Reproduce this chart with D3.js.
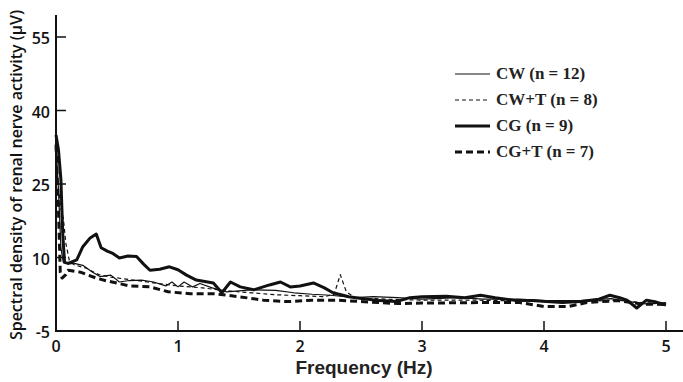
<!DOCTYPE html>
<html>
<head>
<meta charset="utf-8">
<script src="https://cdn.jsdelivr.net/npm/d3@7"></script>
<style>
  body { margin: 0; background: white; }
  svg { display: block; }
</style>
</head>
<body>
<svg id="chart" width="683" height="382"></svg>
<script>
// tick values
var xTicks = [0, 1, 2, 3, 4, 5];
var yTicks = [-5, 10, 25, 40, 55];

// series, [frequency (Hz), spectral density (uV)]
var cw = [[0,33],[0.02,24],[0.04,12],[0.06,9],[0.1,8.7],[0.15,8.8],[0.22,8.4],[0.3,7],[0.36,6.1],
  [0.45,6.4],[0.52,5],[0.6,5.3],[0.7,5.4],[0.8,5],[0.9,4.2],[0.95,5],[1.0,4],[1.05,5],[1.12,4],
  [1.18,4.7],[1.28,3.8],[1.4,3],[1.6,3.4],[1.8,3.3],[1.95,2.8],[2.1,2.5],[2.25,2.3],[2.45,1.8],
  [2.6,2],[2.8,1.8],[3.0,1.5],[3.3,1.8],[3.5,1.5],[3.8,1.5],[4.0,1.2],[4.3,1.2],[4.55,1.6],
  [4.7,1.0],[4.85,0.5],[5.0,0.8]];
var cwT = [[0,30],[0.02,24],[0.04,20],[0.06,18],[0.08,13],[0.11,9.3],[0.15,8.5],[0.25,7.8],
  [0.35,6.5],[0.45,6],[0.6,5.5],[0.75,5],[0.9,4.5],[1.0,4.2],[1.2,3.8],[1.4,3.2],[1.6,2.8],
  [1.8,2.4],[2.0,2.2],[2.2,2.0],[2.28,2.5],[2.33,6.5],[2.38,3],[2.45,1.8],[2.7,1.5],[3.0,1.3],
  [3.4,1.3],[3.7,1.2],[4.0,1.0],[4.3,1.0],[4.6,1.3],[4.8,0.8],[5.0,0.6]];
var cg = [[0,35],[0.02,32],[0.04,26],[0.055,15],[0.07,9],[0.1,8.8],[0.17,9.5],[0.22,12.2],
  [0.28,14],[0.33,14.8],[0.37,12],[0.42,11.3],[0.46,10.9],[0.52,9.9],[0.59,10.3],[0.66,10.2],
  [0.72,8.6],[0.77,7.4],[0.85,7.6],[0.93,8.1],[1.0,7.5],[1.07,6.4],[1.15,5.4],[1.29,4.8],
  [1.36,2.8],[1.43,5],[1.51,4],[1.62,3.4],[1.75,4.4],[1.84,5],[1.92,4],[2.0,4.2],[2.11,4.8],
  [2.2,3.8],[2.27,2.8],[2.4,2],[2.49,1.7],[2.65,1.2],[2.79,1],[2.9,1.8],[3.0,2],[3.2,2.1],
  [3.35,1.8],[3.48,2.3],[3.6,1.8],[3.75,1.3],[3.9,1.2],[4.02,1],[4.15,0.8],[4.3,1.0],
  [4.45,1.5],[4.54,2.3],[4.62,1.8],[4.68,1.3],[4.76,-0.3],[4.84,1.3],[4.92,0.9],[5.0,0.3]];
var cgT = [[0,33],[0.02,20],[0.035,7],[0.05,5.8],[0.08,6.5],[0.1,7.4],[0.2,7],[0.33,5.8],
  [0.42,5.2],[0.5,4.8],[0.6,4.2],[0.77,4],[0.92,3],[1.1,2.6],[1.3,2.6],[1.5,2.0],[1.7,1.3],
  [1.9,1.0],[2.1,1.3],[2.3,1.3],[2.5,1.0],[2.8,0.6],[3.0,0.7],[3.5,0.8],[3.8,0.8],[4.0,0],
  [4.2,0],[4.35,0.8],[4.6,1.2],[4.8,0.5],[5.0,0.4]];

var seriesNames = ["CW (n = 12)", "CW+T (n = 8)", "CG (n = 9)", "CG+T (n = 7)"];
var seriesData = [cw, cwT, cg, cgT];
var seriesWidth = [1.2, 1.2, 3, 3];
var seriesDash = [null, "4,3", null, "7,4"];

var svg = d3.select("#chart");
var x = d3.scaleLinear().domain([0, 5]).range([56, 666]);
var y = d3.scaleLinear().domain([-5, 55]).range([331, 37]);

// lines
var line = d3.line()
    .x(function (d) { return x(d[0]) })
    .y(function (d) { return y(d[1]) })
    .curve(d3.curveLinear);

svg.selectAll(".series")
    .data(seriesData)
    .enter()
    .append("path")
    .attr("class", "series")
    .attr("d", line)
    .style("fill", "none")
    .style("stroke", "#111")
    .style("stroke-linejoin", "round")
    .style("stroke-width", function (d, i) { return seriesWidth[i] })
    .style("stroke-dasharray", function (d, i) { return seriesDash[i] });

// axes
svg.append("line")
    .attr("x1", 56).attr("x2", 56).attr("y1", 15).attr("y2", 332)
    .style("stroke", "#111").style("stroke-width", 2);
svg.append("line")
    .attr("x1", 55).attr("x2", 683).attr("y1", y(-5)).attr("y2", y(-5))
    .style("stroke", "#111").style("stroke-width", 2);

var tickFont = "'Open Sans', sans-serif";

svg.selectAll(".ytick")
    .data(yTicks.filter(function (d) { return d > -5 }))
    .enter()
    .append("line")
    .attr("class", "ytick")
    .attr("x1", 56).attr("x2", 66)
    .attr("y1", function (d) { return y(d) })
    .attr("y2", function (d) { return y(d) })
    .style("stroke", "#111").style("stroke-width", 1.5);

svg.selectAll(".ylab")
    .data(yTicks)
    .enter()
    .append("text")
    .attr("class", "ylab")
    .attr("x", 50)
    .attr("y", function (d) { return y(d) + 7 })
    .attr("text-anchor", "end")
    .style("font-family", tickFont)
    .style("font-weight", 600)
    .style("font-size", "16px")
    .style("fill", "#111")
    .text(function (d) { return d });

svg.selectAll(".xtick")
    .data(xTicks.filter(function (d) { return d > 0 }))
    .enter()
    .append("line")
    .attr("class", "xtick")
    .attr("x1", function (d) { return x(d) })
    .attr("x2", function (d) { return x(d) })
    .attr("y1", 321).attr("y2", 331)
    .style("stroke", "#111").style("stroke-width", 1.5);

svg.selectAll(".xlab")
    .data(xTicks)
    .enter()
    .append("text")
    .attr("class", "xlab")
    .attr("x", function (d) { return x(d) })
    .attr("y", 352)
    .attr("text-anchor", "middle")
    .style("font-family", tickFont)
    .style("font-weight", 600)
    .style("font-size", "16px")
    .style("fill", "#111")
    .text(function (d) { return d });

// axis titles
svg.append("text")
    .attr("x", 364).attr("y", 374)
    .attr("text-anchor", "middle")
    .style("font-family", "'Liberation Sans', Arial, sans-serif")
    .style("font-weight", "bold")
    .style("font-size", "19px")
    .style("fill", "#222")
    .text("Frequency (Hz)");

svg.append("text")
    .attr("transform", "translate(22,175) rotate(-90)")
    .attr("text-anchor", "middle")
    .style("font-family", tickFont)
    .style("font-weight", 600)
    .style("font-size", "16px")
    .style("fill", "#111")
    .text("Spectral density of renal nerve activity (\u03bcV)");

// legend
var legendY = [74, 100, 126, 152];
var legend = svg.selectAll(".legend")
    .data(seriesNames)
    .enter()
    .append("g")
    .attr("class", "legend")
    .attr("transform", function (d, i) { return "translate(455," + legendY[i] + ")" });

legend.append("line")
    .attr("x1", 0).attr("x2", 35).attr("y1", 0).attr("y2", 0)
    .style("stroke", "#111")
    .style("stroke-width", function (d, i) { return seriesWidth[i] })
    .style("stroke-dasharray", function (d, i) { return seriesDash[i] });

legend.append("text")
    .attr("x", 41).attr("y", 5)
    .style("font-family", "'Liberation Serif', serif")
    .style("font-weight", "bold")
    .style("font-size", "17px")
    .style("fill", "#222")
    .text(function (d) { return d });
</script>
</body>
</html>
